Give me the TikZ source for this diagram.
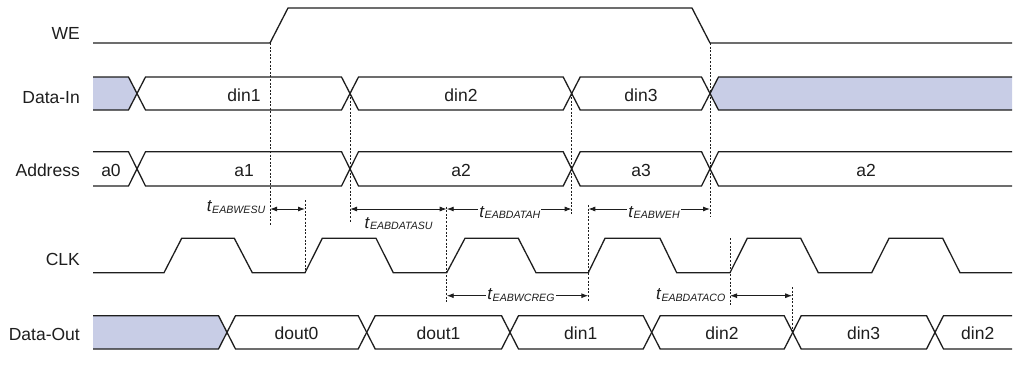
\documentclass[tikz,border=0pt]{standalone}
\usepackage{fontspec}
\setmainfont{Liberation Sans}
\usetikzlibrary{arrows.meta}
\definecolor{fillc}{RGB}{200,205,230}
\definecolor{ink}{RGB}{30,30,30}
\newcommand\tsub[1]{\fontsize{17}{20}\selectfont\textit{t}\raisebox{-1.5pt}{\fontsize{10.6}{12}\selectfont\textit{#1}}}
\begin{document}
\begin{tikzpicture}[x=1pt,y=-1pt,
  wave/.style={line width=1.3pt, draw=ink, line join=miter},
  guide/.style={line width=0.9pt, draw=ink, dash pattern=on 2pt off 1.6pt},
  dim/.style={line width=0.9pt, draw=ink, {Latex[length=7pt,width=5pt]}-{Latex[length=7pt,width=5pt]}},
  siglabel/.style={anchor=base east, inner sep=0pt, font=\fontsize{17.5}{20}\selectfont, text=ink},
  val/.style={anchor=base, inner sep=0pt, font=\fontsize{17.5}{20}\selectfont, text=ink},
  tlab/.style={inner sep=1.2pt, fill=white, text=ink, anchor=base west},
  tlabr/.style={inner sep=0pt, text=ink, anchor=base east}
]
\useasboundingbox (0,0) rectangle (1017,370);

% ---- signal names
\node[siglabel] (nWE)   at (80,39.3)  {WE};
\node[siglabel] (nDI)   at (80,103.3) {Data-In};
\node[siglabel] (nAD)   at (80,176.7) {Address};
\node[siglabel] (nCLK)  at (80,265)   {CLK};
\node[siglabel] (nDO)   at (80,340)   {Data-Out};

% ---- fills
\fill[fillc] (93,77) -- (128.5,77) -- (137,93.5) -- (128.5,110) -- (93,110) -- cycle;
\fill[fillc] (1012,77) -- (718.5,77) -- (710,93.5) -- (718.5,110) -- (1012,110) -- cycle;
\fill[fillc] (93,315.7) -- (218.5,315.7) -- (227,332.35) -- (218.5,349) -- (93,349) -- cycle;

% ---- WE
\draw[wave] (93,43) -- (270,43) -- (288,8) -- (692,8) -- (710,43) -- (1012,43);

% ---- Data-In
\draw[wave] (93,77) -- (128.5,77) -- (145.5,110) -- (341.5,110) -- (358.5,77) -- (563.2,77) -- (580.2,110) -- (701.5,110) -- (718.5,77) -- (1012,77);
\draw[wave] (93,110) -- (128.5,110) -- (145.5,77) -- (341.5,77) -- (358.5,110) -- (563.2,110) -- (580.2,77) -- (701.5,77) -- (718.5,110) -- (1012,110);

% ---- Address
\draw[wave] (93,151.7) -- (128.5,151.7) -- (145.5,186) -- (341.5,186) -- (358.5,151.7) -- (563.2,151.7) -- (580.2,186) -- (701.5,186) -- (718.5,151.7) -- (1012,151.7);
\draw[wave] (93,186) -- (128.5,186) -- (145.5,151.7) -- (341.5,151.7) -- (358.5,186) -- (563.2,186) -- (580.2,151.7) -- (701.5,151.7) -- (718.5,186) -- (1012,186);

% ---- CLK
\draw[wave] (93,272.7) -- (164,272.7) -- (181.7,238.3) -- (234.3,238.3) -- (252.3,272.7) -- (305,272.7) -- (322.3,238.3) -- (376,238.3) -- (393.3,272.7) -- (446.7,272.7) -- (465,238.3) -- (518.3,238.3) -- (536,272.7) -- (588.3,272.7) -- (605,238.3) -- (660,238.3) -- (676.7,272.7) -- (730,272.7) -- (747.3,238.3) -- (800.7,238.3) -- (818.3,272.7) -- (871.7,272.7) -- (889,238.3) -- (942.7,238.3) -- (960,272.7) -- (1012,272.7);

% ---- Data-Out
\draw[wave] (93,315.7) -- (218.5,315.7) -- (235.5,349) -- (358.2,349) -- (375.2,315.7) -- (501.5,315.7) -- (518.5,349) -- (643.2,349) -- (660.2,315.7) -- (784.2,315.7) -- (801.2,349) -- (926.5,349) -- (943.5,315.7) -- (1012,315.7);
\draw[wave] (93,349) -- (218.5,349) -- (235.5,315.7) -- (358.2,315.7) -- (375.2,349) -- (501.5,349) -- (518.5,315.7) -- (643.2,315.7) -- (660.2,349) -- (784.2,349) -- (801.2,315.7) -- (926.5,315.7) -- (943.5,349) -- (1012,349);

% ---- values
\node[val] (vdin1) at (244,101.5) {din1};
\node[val] (vdin2) at (461,101.5) {din2};
\node[val] (vdin3) at (641,101.5) {din3};
\node[val] (va0) at (111,176.7) {a0};
\node[val] (va1) at (244,176.7) {a1};
\node[val] (va2) at (461,176.7) {a2};
\node[val] (va3) at (641,176.7) {a3};
\node[val] (va2b) at (866,176.7) {a2};
\node[val] (vd0) at (296.5,339.5) {dout0};
\node[val] (vd1) at (438.5,339.5) {dout1};
\node[val] (vo1) at (580.7,339.5) {din1};
\node[val] (vo2) at (722,339.5) {din2};
\node[val] (vo3) at (863.6,339.5) {din3};
\node[val] (vo4) at (977.7,339.5) {din2};

% ---- guide coordinates
\coordinate (g1a) at (270,43);    \coordinate (g1b) at (270,226);
\coordinate (g2a) at (305,200);   \coordinate (g2b) at (305,272.7);
\coordinate (g3a) at (350,93.5);  \coordinate (g3b) at (350,221.7);
\coordinate (g4a) at (446.7,206.5); \coordinate (g4b) at (446.7,302);
\coordinate (g5a) at (571.7,93.5); \coordinate (g5b) at (571.7,215);
\coordinate (g6a) at (588.3,205); \coordinate (g6b) at (588.3,302);
\coordinate (g7a) at (710,43);    \coordinate (g7b) at (710,216.7);
\coordinate (g8a) at (730,238.3); \coordinate (g8b) at (730,305);
\coordinate (g9a) at (792.2,287); \coordinate (g9b) at (792.2,332.35);
\foreach \g in {1,...,9} {\draw[guide] (g\g a) -- (g\g b);}

% ---- dimension arrows
\coordinate (d1a) at (270,209);   \coordinate (d1b) at (305,209);
\coordinate (d2a) at (350,209);   \coordinate (d2b) at (446.7,209);
\coordinate (d3a) at (446.7,209); \coordinate (d3b) at (571.7,209);
\coordinate (d4a) at (588.3,209); \coordinate (d4b) at (710,209);
\coordinate (d5a) at (446.7,295.7); \coordinate (d5b) at (588.3,295.7);
\coordinate (d6a) at (730,295.7); \coordinate (d6b) at (792.2,295.7);
\foreach \d in {1,...,6} {\draw[dim] (d\d a) -- (d\d b);}

% ---- timing labels
\node[tlabr] (tWESU)  at (265.5,211.7) {\tsub{EABWESU}};
\node[tlab, fill=none] (tDASU)  at (363.3,228.3) {\tsub{EABDATASU}};
\node[tlab] (tDAH)   at (478,217)   {\tsub{EABDATAH}};
\node[tlab] (tWEH)   at (627,217)   {\tsub{EABWEH}};
\node[tlab] (tWCREG) at (486,299.5) {\tsub{EABWCREG}};
\node[tlabr] (tDACO)  at (725.5,299.5) {\tsub{EABDATACO}};
\end{tikzpicture}
\end{document}
